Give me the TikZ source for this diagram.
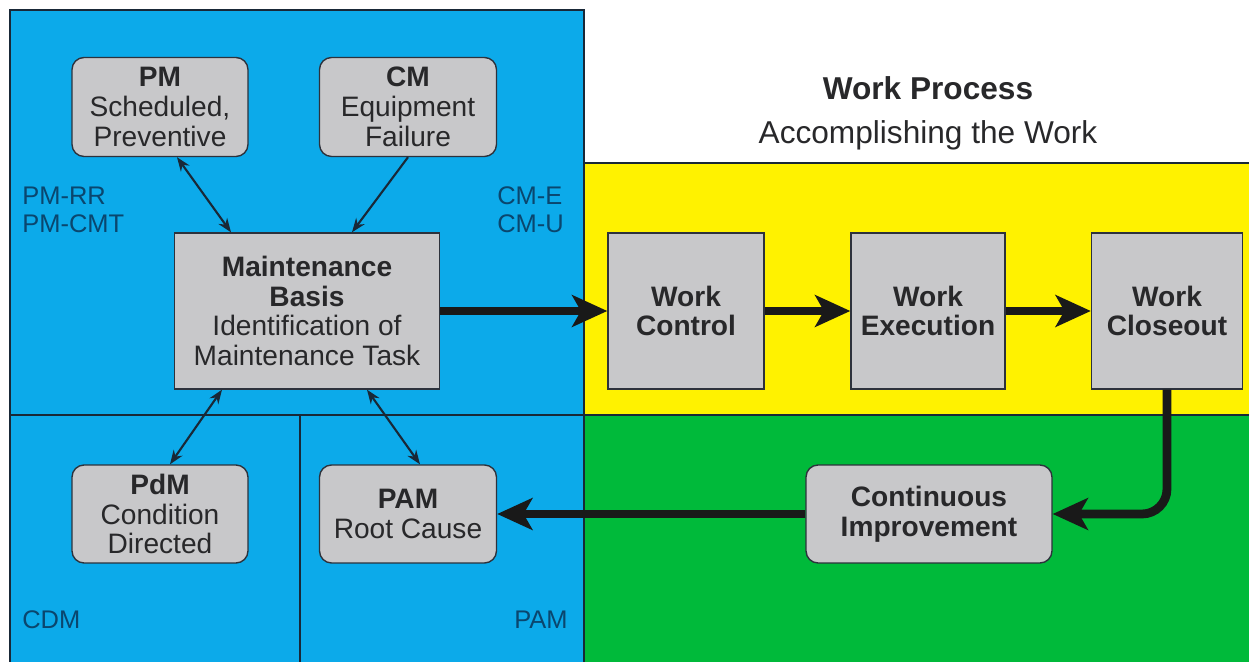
\documentclass[tikz,border=0pt]{standalone}
\usepackage{fontspec}
\setmainfont{Liberation Sans}
\usetikzlibrary{arrows.meta}
\definecolor{areablue}{RGB}{12,170,234}
\definecolor{areayellow}{RGB}{255,242,0}
\definecolor{areagreen}{RGB}{0,186,58}
\definecolor{boxgray}{RGB}{200,200,202}
\definecolor{boxline}{RGB}{45,50,60}
\definecolor{boxtext}{RGB}{40,40,42}
\definecolor{arealine}{RGB}{25,40,55}
\definecolor{codeblue}{RGB}{10,70,110}
\begin{document}
\begin{tikzpicture}[x = 0.02cm, y = -0.02cm,
		box/.style = {draw = boxline, line width = 0.8pt, fill = boxgray, text = boxtext,
			align = center, inner sep = 0pt, font = \fontsize{16}{17}\selectfont},
		roundbox/.style = {box, rounded corners = 0.24cm},
		areatext/.style = {text = codeblue, align = left, inner sep = 0pt,
			font = \fontsize{14.5}{16}\selectfont},
		edgeline/.style = {draw = arealine, line width = 1.2pt},
		link/.style = {draw = arealine, line width = 1.2pt},
		oneway/.style = {link, -{Stealth[length = 8pt, width = 6pt]}},
		twoway/.style = {link, {Stealth[length = 8pt, width = 6pt]}-{Stealth[length = 8pt, width = 6pt]}},
		flow/.style = {draw = black!90, line width = 5pt, -{Stealth[length = 20pt, width = 18pt, inset = 5pt]}}]
	\useasboundingbox (0, 0) rectangle (1249, 662);
	% coloured areas
	\fill[areablue]   (10, 10)   rectangle (584, 662);
	\fill[areayellow] (584, 163) rectangle (1249, 415);
	\fill[areagreen]  (584, 415) rectangle (1249, 662);
	\draw[edgeline] (10, 662) -- (10, 10) -- (584, 10) -- (584, 662);
	\draw[edgeline] (584, 163) -- (1249, 163);
	\draw[edgeline] (10, 415) -- (1249, 415);
	\draw[edgeline] (300, 415) -- (300, 662);
	% titles
	\node[text = boxtext, font = \fontsize{18}{20}\selectfont\bfseries] (title) at (928, 88) {Work Process};
	\node[text = boxtext, font = \fontsize{18}{20}\selectfont] (subtitle) at (928, 135) {Accomplishing the Work};
	% codes in the blue area
	\node[areatext, anchor = west] (pmcodes)  at (22, 210)  {PM-RR\\PM-CMT};
	\node[areatext, anchor = west] (cmcodes)  at (497, 210) {CM-E\\CM-U};
	\node[areatext, anchor = west] (cdmcode)  at (22, 620)  {CDM};
	\node[areatext, anchor = east] (pamcode)  at (568, 620) {PAM};
	% maintenance boxes
	\node[roundbox, minimum width = 3.52cm, minimum height = 1.98cm] (pm)  at (160, 107) {\textbf{PM}\\Scheduled,\\Preventive};
	\node[roundbox, minimum width = 3.54cm, minimum height = 1.98cm] (cm)  at (408, 107) {\textbf{CM}\\Equipment\\Failure};
	\node[box, minimum width = 5.3cm, minimum height = 3.12cm]       (mb)  at (307, 311) {\textbf{Maintenance}\\\textbf{Basis}\\Identification of\\Maintenance Task};
	\node[roundbox, minimum width = 3.52cm, minimum height = 1.96cm] (pdm) at (160, 514) {\textbf{PdM}\\Condition\\Directed};
	\node[roundbox, minimum width = 3.54cm, minimum height = 1.96cm] (pam) at (408, 514) {\textbf{PAM}\\Root Cause};
	% work process boxes
	\node[box, font = \fontsize{16}{17}\selectfont\bfseries, minimum width = 3.12cm, minimum height = 3.12cm] (wcontrol) at (686, 311)  {Work\\Control};
	\node[box, font = \fontsize{16}{17}\selectfont\bfseries, minimum width = 3.08cm, minimum height = 3.12cm] (wexec)    at (928, 311)  {Work\\Execution};
	\node[box, font = \fontsize{16}{17}\selectfont\bfseries, minimum width = 3.02cm, minimum height = 3.12cm] (wclose)   at (1167, 311) {Work\\Closeout};
	\node[roundbox, font = \fontsize{16}{17}\selectfont\bfseries, minimum width = 4.92cm, minimum height = 1.96cm] (ci) at (929, 514) {Continuous\\Improvement};
	% thin links to the basis
	\draw[twoway] ([xshift = 0.34cm]pm.south) -- ([xshift = -1.52cm]mb.north);
	\draw[oneway] (cm.south) -- ([xshift = 0.9cm]mb.north);
	\draw[twoway] ([xshift = -1.7cm]mb.south) -- ([xshift = 0.2cm]pdm.north);
	\draw[twoway] ([xshift = 1.2cm]mb.south) -- ([xshift = 0.24cm]pam.north);
	% thick flow
	\draw[flow] (mb) -- (wcontrol);
	\draw[flow] (wcontrol) -- (wexec);
	\draw[flow] (wexec) -- (wclose);
	\draw[flow, rounded corners = 0.5cm] (wclose) |- (ci);
	\draw[flow] (ci) -- (pam);
\end{tikzpicture}
\end{document}
